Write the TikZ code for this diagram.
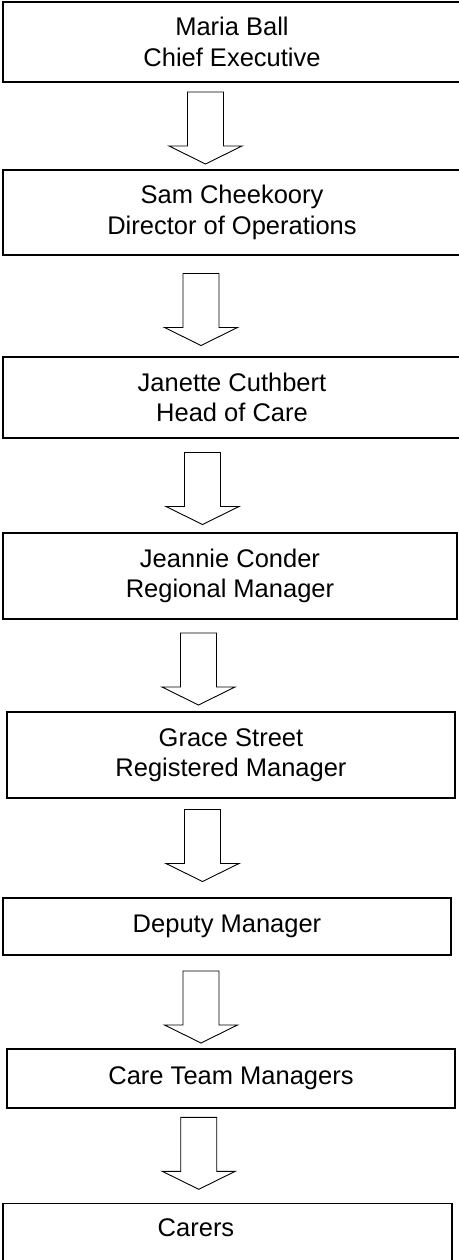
\documentclass[tikz,border=0pt]{standalone}
\usepackage{fontspec}
\setmainfont{Liberation Sans}
\usetikzlibrary{calc}

\tikzset{
    pics/downarrow/.style={code={
        \draw[line width=0.9pt, line join=miter]
            (-18,-36) -- (18,-36) -- (18,18) -- (36.5,18) -- (0,36)
            -- (-36.5,18) -- (-18,18) -- cycle;
    }}
}

\begin{document}
\begin{tikzpicture}[x=1pt, y=-1pt,
    box/.style={draw, line width=1.2pt, align=center, inner sep=0pt,
        font=\fontsize{25.5}{30.5}\selectfont}]

    \useasboundingbox (0,0) rectangle (458,1260);

    \node[box, minimum width=458pt, minimum height=80pt] (ceo) at (232,42)
        {Maria Ball\\Chief Executive};
    \node[box, minimum width=458pt, minimum height=85pt] (ops) at (232,212.5)
        {Sam Cheekoory\\Director of Operations};
    \node[box, minimum width=458pt, minimum height=81pt] (care) at (232,397.5)
        {Janette Cuthbert\\Head of Care};
    \node[box, minimum width=454pt, minimum height=86pt] (region) at (230,576)
        {Jeannie Conder\\Regional Manager};
    \node[box, minimum width=448pt, minimum height=86pt] (regman) at (231,755)
        {Grace Street\\Registered Manager};
    \node[box, minimum width=448pt, minimum height=57pt] (deputy) at (227,926.5)
        {Deputy Manager};
    \node[box, minimum width=448pt, minimum height=59pt] (teams) at (231,1078.5)
        {Care Team Managers};
    \node[box, minimum width=449pt, anchor=north, inner ysep=15pt, text depth=45pt]
        (carers) at (227.5,1203) {Carers\hspace*{63pt}};

    \pic at ($(ceo.south)!0.5!(ops.north)+(-26.5,2)$) {downarrow};
    \pic at ($(ops.south)!0.5!(care.north)+(-31,3.5)$) {downarrow};
    \pic at ($(care.south)!0.5!(region.north)+(-28.5,3)$) {downarrow};
    \pic at ($(region.south)!0.5!(regman.north)+(-32,3.5)$) {downarrow};
    \pic at ($(regman.south)!0.5!(deputy.north)+(-26.5,-2.5)$) {downarrow};
    \pic at ($(deputy.south)!0.5!(teams.north)+(-28,5)$) {downarrow};
    \pic at ($(teams.south)!0.5!(carers.north)+(-30.5,-2.5)$) {downarrow};

\end{tikzpicture}
\end{document}
